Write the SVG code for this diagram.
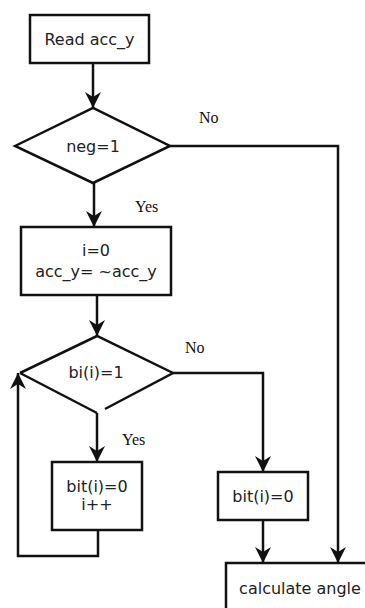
<svg xmlns="http://www.w3.org/2000/svg" width="365" height="608" viewBox="0 0 365 608">
<defs>
<style>
.box{fill:#fff;stroke:#111;stroke-width:2.5}
.edge{fill:none;stroke:#111;stroke-width:2.5;marker-end:url(#ah)}
.line{fill:none;stroke:#111;stroke-width:2.5}
.t{font-family:"DejaVu Sans",sans-serif;font-size:16px;fill:#222;text-anchor:middle}
.lbl{font-family:"Liberation Serif",serif;font-size:16px;fill:#111}
</style>
<marker id="ah" viewBox="-17 -9 18 18" refX="0" refY="0" markerWidth="18" markerHeight="18" markerUnits="userSpaceOnUse" orient="auto">
<path d="M0,0 L-16,-8 L-11,0 L-16,8 Z" fill="#111"/>
</marker>
</defs>
<rect width="365" height="608" fill="#fff"/>
<g id="connectors">
<path class="edge" d="M93,63 V108"/>
<path class="edge" d="M94,183 V227"/>
<path class="edge" d="M97,295 V336"/>
<path class="edge" d="M170,146 H338 V563"/>
<path class="edge" d="M173,373 H263 V472"/>
<path class="edge" d="M97,413 V462"/>
<path class="edge" d="M98,530 V556 H18 V373"/>
<path class="edge" d="M263,520 V563"/>
</g>
<g id="read">
<rect class="box" x="30" y="15" width="119" height="48"/>
<text class="t" x="89.5" y="45">Read acc_y</text>
</g>
<g id="neg">
<polygon class="box" points="15,146 93,108 170,146 93,183"/>
<text class="t" x="93" y="152">neg=1</text>
</g>
<g id="init">
<rect class="box" x="21" y="227" width="150" height="68"/>
<text class="t" x="96" y="256">i=0</text>
<text class="t" x="96" y="277">acc_y= ~acc_y</text>
</g>
<g id="bi">
<path class="line" d="M20,373 L97,336 L173,373 L105,409 M97,413 L20,373" fill="#fff"/>
<text class="t" x="96" y="378">bi(i)=1</text>
</g>
<g id="inc">
<rect class="box" x="52" y="462" width="90" height="68"/>
<text class="t" x="97" y="492">bit(i)=0</text>
<text class="t" x="97" y="510">i++</text>
</g>
<g id="clear">
<rect class="box" x="218" y="472" width="90" height="48"/>
<text class="t" x="263" y="502">bit(i)=0</text>
</g>
<g id="calc">
<rect class="box" x="226" y="563" width="160" height="60"/>
<text class="t" x="300" y="594">calculate angle</text>
</g>
<g id="labels">
<text class="lbl" x="199" y="123">No</text>
<text class="lbl" x="135" y="212">Yes</text>
<text class="lbl" x="185" y="353">No</text>
<text class="lbl" x="122" y="445">Yes</text>
</g>
</svg>
